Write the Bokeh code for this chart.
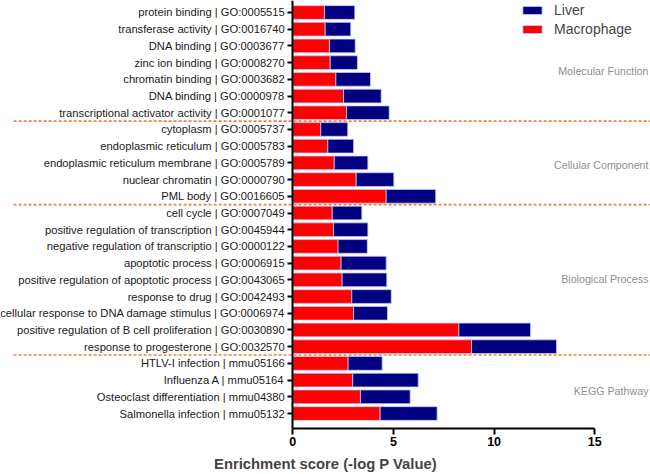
from bokeh.plotting import figure
from bokeh.models import ColumnDataSource, FixedTicker, Range1d, Legend, LegendItem, LinearAxis
from bokeh.embed import file_html
from bokeh.resources import INLINE
from bokeh.core.properties import value

terms = [
    "protein binding | GO:0005515",
    "transferase activity | GO:0016740",
    "DNA binding | GO:0003677",
    "zinc ion binding | GO:0008270",
    "chromatin binding | GO:0003682",
    "DNA binding | GO:0000978",
    "transcriptional activator activity | GO:0001077",
    "cytoplasm | GO:0005737",
    "endoplasmic reticulum | GO:0005783",
    "endoplasmic reticulum membrane | GO:0005789",
    "nuclear chromatin | GO:0000790",
    "PML body | GO:0016605",
    "cell cycle | GO:0007049",
    "positive regulation of transcription | GO:0045944",
    "negative regulation of transcriptio | GO:0000122",
    "apoptotic process | GO:0006915",
    "positive regulation of apoptotic process | GO:0043065",
    "response to drug | GO:0042493",
    "cellular response to DNA damage stimulus | GO:0006974",
    "positive regulation of B cell proliferation | GO:0030890",
    "response to progesterone | GO:0032570",
    "HTLV-I infection | mmu05166",
    "Influenza A | mmu05164",
    "Osteoclast differentiation | mmu04380",
    "Salmonella infection | mmu05132",
]
macrophage = [1.57, 1.61, 1.82, 1.86, 2.14, 2.52, 2.67,
              1.39, 1.74, 2.06, 3.15, 4.64,
              1.96, 2.02, 2.25, 2.40, 2.45, 2.93, 3.02, 8.25, 8.88,
              2.75, 2.98, 3.36, 4.34]
liver = [1.51, 1.27, 1.28, 1.35, 1.72, 1.87, 2.12,
         1.34, 1.28, 1.67, 1.87, 2.46,
         1.47, 1.71, 1.45, 2.24, 2.22, 1.96, 1.68, 3.56, 4.22,
         1.69, 3.25, 2.47, 2.83]
groups = ["Molecular Function", "Cellular Component", "Biological Process", "KEGG Pathway"]
group_sizes = [7, 5, 9, 4]
x_ticks = [0, 5, 10, 15]

# layout (row offsets of group captions, from top)
group_label_rows = [3.5, 9.15, 15.95, 22.67]

n = len(terms)
ys = [n - 1 - i for i in range(n)]
source = ColumnDataSource(dict(y=ys, term=terms, macrophage=macrophage, liver=liver))

FONT = "Liberation Sans"

p = figure(width=650, height=474, output_backend="svg", toolbar_location=None,
           x_range=Range1d(-14.52, 17.77), y_range=Range1d(-0.897, n - 1 + 0.718),
           y_axis_location=None, x_axis_location=None,
           min_border_left=0, min_border_right=0, min_border_top=0, min_border_bottom=46)
p.outline_line_color = None
p.xgrid.grid_line_color = None
p.ygrid.grid_line_color = None
p.background_fill_color = "white"

# dashed separators between groups
bounds = []
c = 0
for s in group_sizes[:-1]:
    c += s
    bounds.append(n - 1 - (c - 0.5))
p.segment(x0=[-13.87] * len(bounds), x1=[17.77] * len(bounds), y0=bounds, y1=bounds,
          line_color="#f57c3c", line_width=1.6, line_dash="3 2")

rs = p.hbar_stack(["macrophage", "liver"], y="y", height=0.82, source=source,
                  fill_color=["#ff0000", "#000080"], line_color="#c4c8f0", line_width=0.8)

# group captions
gx = [17.67] * len(groups)
gy = [n - 1 - r for r in group_label_rows]
p.text(x=gx, y=gy, text=groups, text_align="right", text_baseline="middle",
       text_font=value(FONT), text_font_size="10.7px", text_color="#8f8f8f")

# x axis
xa = LinearAxis(bounds=(0, 15), ticker=FixedTicker(ticks=x_ticks))
xa.axis_line_width = 2
xa.major_tick_line_width = 2
xa.major_tick_out = 6
xa.major_tick_in = 0
xa.minor_tick_line_color = None
xa.major_label_text_font = FONT
xa.major_label_text_font_style = "bold"
xa.major_label_text_font_size = "12.5px"
xa.major_label_text_color = "black"
xa.major_label_standoff = 2
xa.axis_label = "Enrichment score (-log P Value)"
xa.axis_label_text_font = FONT
xa.axis_label_text_font_style = "bold"
xa.axis_label_text_font_size = "14.8px"
xa.axis_label_standoff = 7
p.add_layout(xa, "below")

# y axis at x = 0
ya = LinearAxis(fixed_location=0, ticker=FixedTicker(ticks=ys))
ya.major_label_overrides = {y: t for y, t in zip(ys, terms)}
ya.axis_line_width = 2
ya.major_tick_line_width = 2
ya.major_tick_out = 5
ya.major_tick_in = 0
ya.minor_tick_line_color = None
ya.major_label_text_font = FONT
ya.major_label_text_font_size = "11.2px"
ya.major_label_text_color = "#1a1a1a"
ya.major_label_standoff = 3
p.add_layout(ya, "left")

legend = Legend(items=[LegendItem(label="Liver", renderers=[rs[1]]),
                       LegendItem(label="Macrophage", renderers=[rs[0]])],
                location=(520, 390), glyph_width=24, glyph_height=10, label_height=18,
                label_standoff=10, spacing=1, padding=0, margin=0,
                border_line_color=None, background_fill_alpha=0,
                label_text_font=FONT, label_text_font_size="14px")
p.add_layout(legend)

open("out.html", "w").write(file_html(p, INLINE))
